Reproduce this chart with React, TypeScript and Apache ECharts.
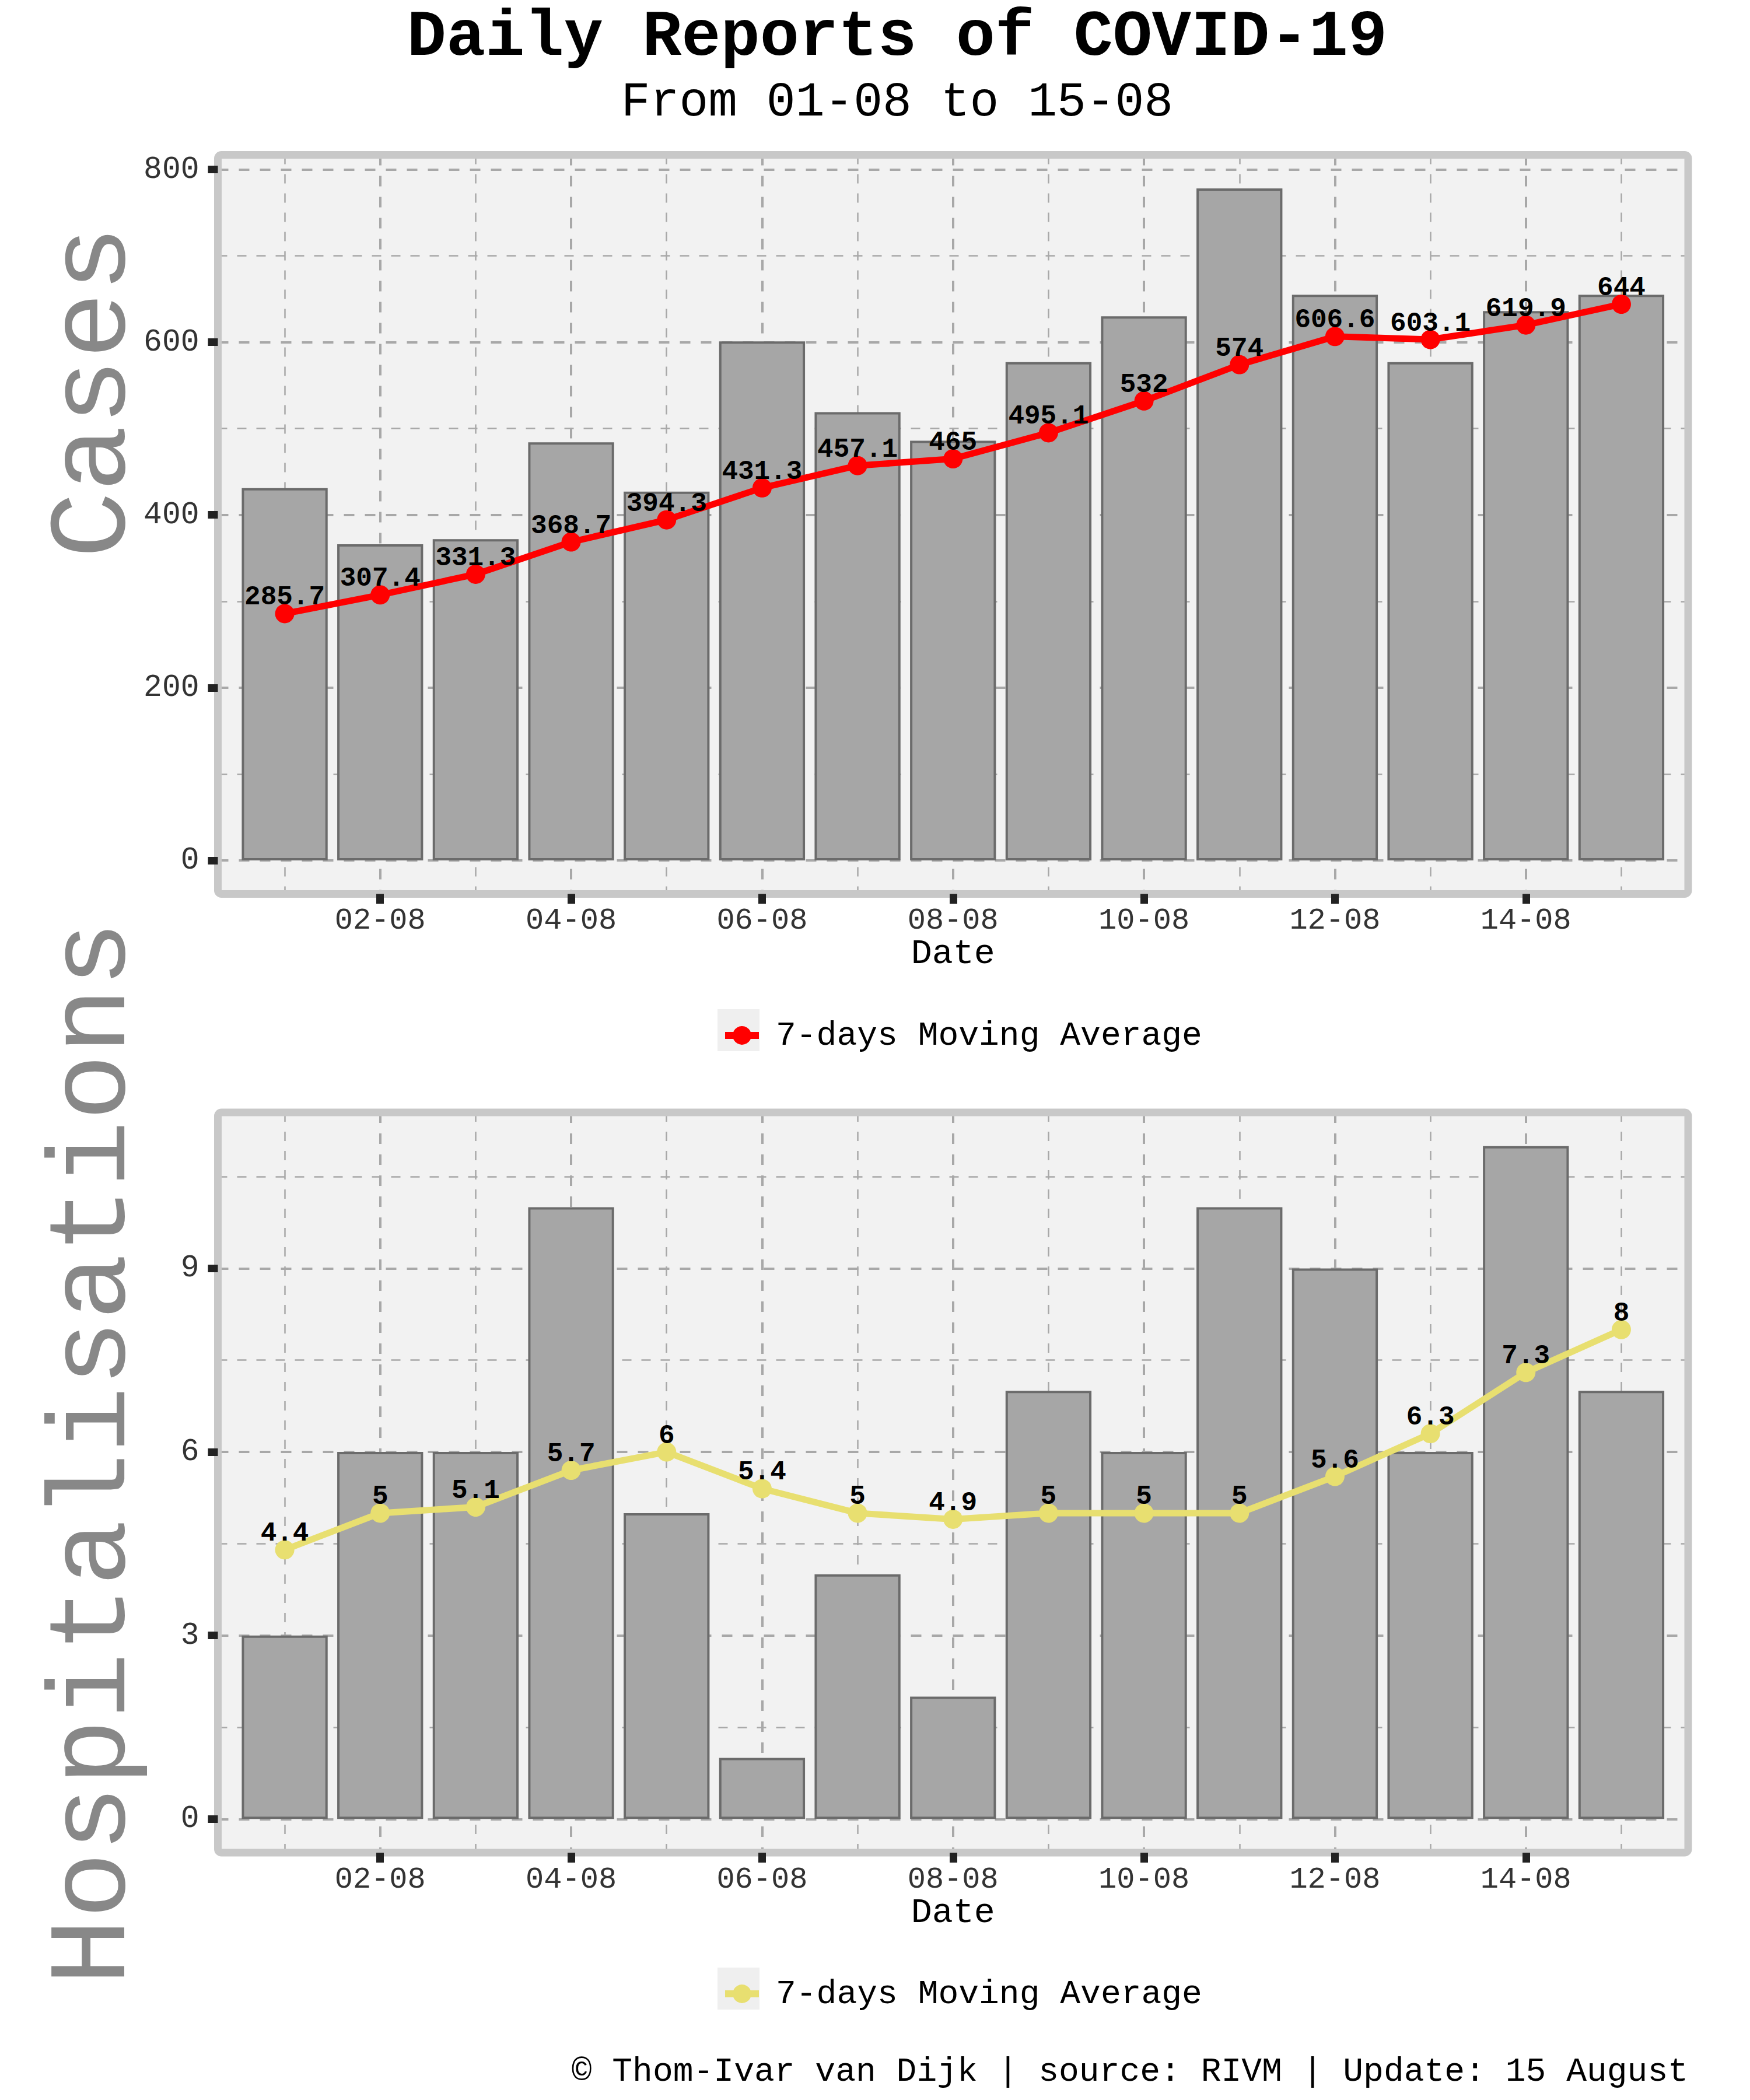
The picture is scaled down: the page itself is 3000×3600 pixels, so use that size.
import { useEffect, useRef } from "react";
import * as echarts from "echarts";

// Daily figures, 01-08 .. 15-08
const dates = ["01-08", "02-08", "03-08", "04-08", "05-08", "06-08", "07-08", "08-08", "09-08", "10-08", "11-08", "12-08", "13-08", "14-08", "15-08"];
const days = [1, 2, 3, 4, 5, 6, 7, 8, 9, 10, 11, 12, 13, 14, 15];
const cases = [431, 366, 372, 484, 427, 601, 519, 486, 577, 630, 778, 655, 577, 636, 655];
const casesAvg = [285.7, 307.4, 331.3, 368.7, 394.3, 431.3, 457.1, 465, 495.1, 532, 574, 606.6, 603.1, 619.9, 644];
const hosp = [3, 6, 6, 10, 5, 1, 4, 2, 7, 6, 10, 9, 6, 11, 7];
const hospAvg = [4.4, 5, 5.1, 5.7, 6, 5.4, 5, 4.9, 5, 5, 5, 5.6, 6.3, 7.3, 8];

// axis breaks
const dateTicks = [2, 4, 6, 8, 10, 12, 14];
const dateMinor = [1, 3, 5, 7, 9, 11, 13, 15];
const caseTicks = [0, 200, 400, 600, 800];
const caseMinor = [100, 300, 500, 700];
const hospTicks = [0, 3, 6, 9];
const hospMinor = [1.5, 4.5, 7.5, 10.5];

const W = 3000;
const H = 3600;
const FONT = "'Liberation Mono', 'DejaVu Sans Mono', monospace";
const PLOT_LEFT = 373.5;
const PLOT_WIDTH = 2520.5;
const panels = [
  { top: 265.5, height: 1267 },
  { top: 1907, height: 1269 },
];

// ggplot-style 5% expansion
const expand = (lo: number, hi: number) => [lo - (hi - lo) * 0.05, hi + (hi - lo) * 0.05];
const xRange = expand(days[0], days[days.length - 1]);
const pxPerDay = PLOT_WIDTH / (xRange[1] - xRange[0]);

const majorLine = { color: "#a8a8a8", width: 4, type: [18, 18] };
const minorLine = { color: "#a8a8a8", width: 2.5, type: [16, 17] };
const noLine = { show: false, onZero: false };

function xAxesFor(g: number) {
  const base = { type: "value", gridIndex: g, min: xRange[0], max: xRange[1], position: "bottom" };
  return [
    {
      ...base,
      z: 5,
      axisLine: noLine,
      axisTick: { show: true, customValues: dateTicks, length: 17, lineStyle: { color: "#222", width: 13 } },
      axisLabel: {
        customValues: dateTicks,
        formatter: (v: number) => dates[Math.round(v) - 1],
        margin: 20,
        fontFamily: FONT,
        fontSize: 52,
        color: "#333",
      },
      splitLine: { show: false },
      name: "Date",
      nameLocation: "middle",
      nameGap: 71,
      nameTextStyle: { fontFamily: FONT, fontSize: 60, color: "#000" },
    },
    {
      ...base,
      axisLine: noLine,
      axisLabel: { show: false },
      axisTick: { show: false, customValues: dateTicks },
      splitLine: { show: true, customValues: dateTicks, lineStyle: majorLine },
    },
    {
      ...base,
      axisLine: noLine,
      axisLabel: { show: false },
      axisTick: { show: false, customValues: dateMinor },
      splitLine: { show: true, customValues: dateMinor, lineStyle: minorLine },
    },
  ];
}

function yAxesFor(g: number, values: number[], ticks: number[], minor: number[]) {
  const r = expand(0, Math.max(...values));
  const base = { type: "value", gridIndex: g, min: r[0], max: r[1], position: "left" };
  return [
    {
      ...base,
      z: 5,
      axisLine: noLine,
      axisTick: { show: true, customValues: ticks, length: 17, lineStyle: { color: "#222", width: 13 } },
      axisLabel: { customValues: ticks, margin: 32, fontFamily: FONT, fontSize: 53, color: "#333" },
      splitLine: { show: false },
    },
    {
      ...base,
      axisLine: noLine,
      axisLabel: { show: false },
      axisTick: { show: false, customValues: ticks },
      splitLine: { show: true, customValues: ticks, lineStyle: majorLine },
    },
    {
      ...base,
      axisLine: noLine,
      axisLabel: { show: false },
      axisTick: { show: false, customValues: minor },
      splitLine: { show: true, customValues: minor, lineStyle: minorLine },
    },
  ];
}

function seriesFor(g: number, bars: number[], avg: number[], color: string, name: string) {
  const axis = g * 3;
  return [
    {
      type: "bar",
      name: name + "-bars",
      xAxisIndex: axis,
      yAxisIndex: axis,
      barWidth: 0.9 * pxPerDay,
      itemStyle: { color: "#a6a6a6", borderColor: "#6b6b6b", borderWidth: 4 },
      data: days.map((d, i) => [d, bars[i]]),
    },
    {
      type: "line",
      name,
      xAxisIndex: axis,
      yAxisIndex: axis,
      symbol: "circle",
      symbolSize: 33,
      lineStyle: { color, width: 11 },
      itemStyle: { color },
      label: {
        show: true,
        position: "top",
        distance: -12,
        fontFamily: FONT,
        fontSize: 46,
        fontWeight: "bold",
        color: "#000",
        formatter: (p: any) => String(p.value[1]),
      },
      data: days.map((d, i) => [d, avg[i]]),
    },
  ];
}

function legendFor(name: string, top: number) {
  return {
    data: [name],
    left: 1237,
    top,
    orient: "horizontal",
    padding: 0,
    itemWidth: 58,
    itemHeight: 40,
    selectedMode: false,
    formatter: () => "7-days Moving Average",
    lineStyle: { width: 12 },
    textStyle: { fontFamily: FONT, fontSize: 58, color: "#000", padding: [0, 0, 0, 24] },
  };
}

function buildOption() {
  const frames = panels.map((p) => ({
    type: "rect",
    z: 4,
    shape: { x: PLOT_LEFT, y: p.top, width: PLOT_WIDTH, height: p.height, r: 6 },
    style: { fill: "none", stroke: "#c8c8c8", lineWidth: 13 },
    silent: true,
  }));
  const keyBoxes = [1730, 3373].map((y) => ({
    type: "rect",
    shape: { x: 1230, y, width: 72, height: 72 },
    style: { fill: "#efefef" },
    silent: true,
  }));
  const yTitles = [
    { text: "Cases", y: 672 },
    { text: "Hospitalisations", y: 2491 },
  ].map((t) => ({
    type: "text",
    x: 162,
    y: t.y,
    rotation: Math.PI / 2,
    style: {
      text: t.text,
      fontFamily: FONT,
      fontSize: 190,
      fill: "#888888",
      align: "center",
      verticalAlign: "middle",
    },
  }));

  return {
    animation: false,
    backgroundColor: "#ffffff",
    title: [
      {
        text: "Daily Reports of COVID-19",
        left: 1538,
        top: 8,
        padding: 0,
        textAlign: "center",
        textStyle: { fontFamily: FONT, fontSize: 112, lineHeight: 112, fontWeight: "bold", color: "#000" },
      },
      {
        text: "From 01-08 to 15-08",
        left: 1538,
        top: 134,
        padding: 0,
        textAlign: "center",
        textStyle: { fontFamily: FONT, fontSize: 83, lineHeight: 83, fontWeight: "normal", color: "#000" },
      },
      {
        text: "© Thom-Ivar van Dijk | source: RIVM | Update: 15 August",
        right: W - (PLOT_LEFT + PLOT_WIDTH),
        top: 3522,
        padding: 0,
        textStyle: { fontFamily: FONT, fontSize: 58, fontWeight: "normal", color: "#000" },
      },
    ],
    legend: [legendFor("avgCases", 1746), legendFor("avgHosp", 3389)],
    grid: panels.map((p) => ({
      left: PLOT_LEFT,
      top: p.top,
      width: PLOT_WIDTH,
      height: p.height,
      show: true,
      backgroundColor: "#f2f2f2",
      borderWidth: 0,
      containLabel: false,
    })),
    xAxis: [...xAxesFor(0), ...xAxesFor(1)],
    yAxis: [...yAxesFor(0, cases, caseTicks, caseMinor), ...yAxesFor(1, hosp, hospTicks, hospMinor)],
    series: [
      ...seriesFor(0, cases, casesAvg, "#ff0000", "avgCases"),
      ...seriesFor(1, hosp, hospAvg, "#e8df70", "avgHosp"),
    ],
    graphic: [...keyBoxes, ...frames, ...yTitles],
  };
}

export default function App() {
  const ref = useRef<HTMLDivElement>(null);

  useEffect(() => {
    if (!ref.current) return;
    const chart = echarts.init(ref.current, null, { renderer: "svg" });
    chart.setOption(buildOption() as any);
    return () => chart.dispose();
  }, []);

  return <div ref={ref} style={{ position: "absolute", left: 0, top: 0, width: W, height: H }} />;
}
